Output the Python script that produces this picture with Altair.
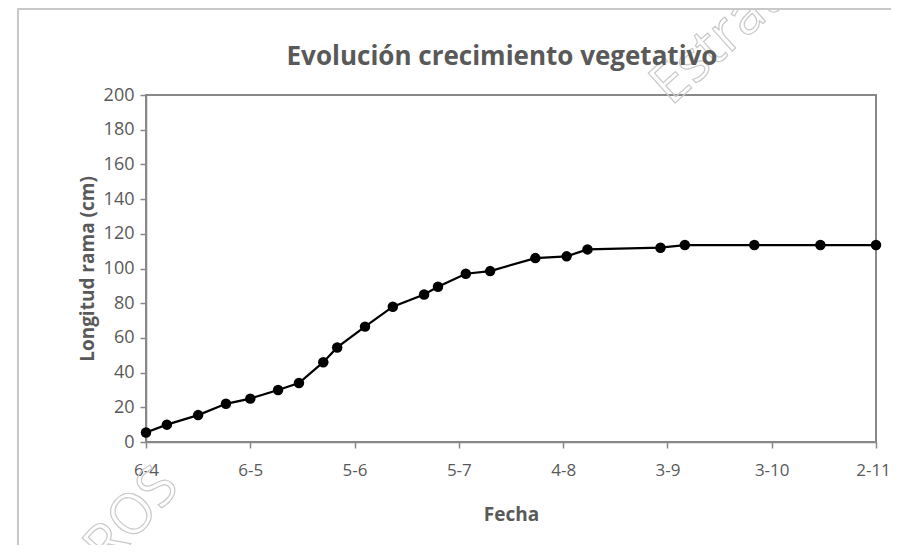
import altair as alt
import pandas as pd

# Data
fechas = ["2015-04-06", "2015-04-12", "2015-04-21", "2015-04-29", "2015-05-06",
          "2015-05-14", "2015-05-20", "2015-05-27", "2015-05-31", "2015-06-08",
          "2015-06-16", "2015-06-25", "2015-06-29", "2015-07-07", "2015-07-14",
          "2015-07-27", "2015-08-05", "2015-08-11", "2015-09-01", "2015-09-08",
          "2015-09-28", "2015-10-17", "2015-11-02"]
longitud = [5.5, 10, 15.5, 22, 25, 30, 34, 46, 54.5, 66.5, 78, 85, 89.5, 97, 98.5,
            106, 107, 111, 112, 113.5, 113.5, 113.5, 113.5]
tick_fechas = ["2015-04-06", "2015-05-06", "2015-06-05", "2015-07-05",
               "2015-08-04", "2015-09-03", "2015-10-03", "2015-11-02"]
y_ticks = [0, 20, 40, 60, 80, 100, 120, 140, 160, 180, 200]

titulo = "Evolución crecimiento vegetativo"
x_titulo = "Fecha"
y_titulo = "Longitud rama (cm)"
marcas_agua = ["Estrat", "ROS"]

FONT = "Open Sans"
TXT = "#595959"
AX = "#888888"


def dt(s):
    y, m, d = (int(v) for v in s.split("-"))
    return alt.DateTime(year=y, month=m, date=d)


df = pd.DataFrame({"fecha": [f + "T00:00:00" for f in fechas], "longitud": longitud})

x_enc = alt.X(
    "fecha:T",
    scale=alt.Scale(domain=[dt(tick_fechas[0]), dt(tick_fechas[-1])]),
    axis=alt.Axis(
        values=[dt(t) for t in tick_fechas],
        format="%-d-%-m",
        title=x_titulo,
        grid=False,
        labelFlush=False,
        labelOverlap=False,
        labelOffset={"condition": {"test": "datum.value > time(datetime(2015, 9, 20))", "value": -3},
                     "value": 0},
        labelFont=FONT, labelFontSize=17, labelColor=TXT, labelPadding=14,
        titleFont=FONT, titleFontSize=19, titleFontWeight="bold", titleColor=TXT,
        titlePadding=27,
        domainColor=AX, domainWidth=1.5, tickColor=AX, tickWidth=1.5, tickSize=6,
    ),
)
y_enc = alt.Y(
    "longitud:Q",
    scale=alt.Scale(domain=[0, 200], nice=False),
    axis=alt.Axis(
        values=y_ticks,
        title=y_titulo,
        grid=False,
        labelFont=FONT, labelFontSize=18, labelColor=TXT, labelPadding=6,
        titleFont=FONT, titleFontSize=19, titleFontWeight="bold", titleColor=TXT,
        titlePadding=6,
        domainColor=AX, domainWidth=1.5, tickColor=AX, tickWidth=1.5, tickSize=6,
    ),
)

base = alt.Chart(df)
linea = base.mark_line(color="black", strokeWidth=2.2).encode(x=x_enc, y=y_enc)
puntos = base.mark_point(filled=True, color="black", size=110, opacity=1).encode(x=x_enc, y=y_enc)

uno = pd.DataFrame({"k": [0]})
borde = alt.Chart(uno).mark_rect(
    filled=True, fill="white", fillOpacity=0, stroke="#c8c8c8", strokeWidth=2
).encode(x=alt.value(-128), x2=alt.value(1100), y=alt.value(-86), y2=alt.value(900))
wm1 = alt.Chart(pd.DataFrame({"t": [marcas_agua[0]]})).mark_text(
    font=FONT, fontSize=56, angle=318, fill="white", fillOpacity=0,
    stroke="#c9c9c9", strokeWidth=1.2
).encode(text="t:N", x=alt.value(570), y=alt.value(-52))
wm2 = alt.Chart(pd.DataFrame({"t": [marcas_agua[1]]})).mark_text(
    font=FONT, fontSize=56, angle=312, fill="white", fillOpacity=0,
    stroke="#c9c9c9", strokeWidth=1.2
).encode(text="t:N", x=alt.value(-14), y=alt.value(422))
tit = alt.Chart(pd.DataFrame({"t": [titulo]})).mark_text(
    font=FONT, fontSize=26, fontWeight="bold", color=TXT, align="center", baseline="middle"
).encode(text="t:N", x=alt.value(356), y=alt.value(-38))

chart = alt.layer(borde, wm1, wm2, tit, linea, puntos).properties(
    width=730,
    height=347,
    background="white",
    autosize=alt.AutoSizeParams(type="none"),
    padding={"left": 138, "top": 87, "right": 15, "bottom": 103},
).configure_view(stroke=AX, strokeWidth=2)

chart.save("out.html", embed_options={"renderer": "svg", "actions": False})
